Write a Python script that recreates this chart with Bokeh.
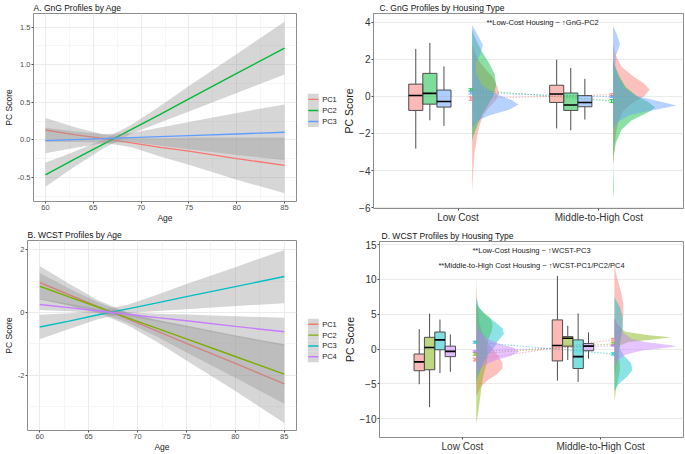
import numpy as np
from bokeh.plotting import figure
from bokeh.models import Range1d, FixedTicker
from bokeh.layouts import column, row
from bokeh.embed import file_html
from bokeh.resources import INLINE
from bokeh.core.properties import value

FONT = "Liberation Sans"

# ---------------- Panel A: GnG profiles by age ----------------
ages = [60, 63, 66, 69, 72, 75, 80, 85]
gng_pcs = ["PC1", "PC2", "PC3"]
gng_colors = ["#F8766D", "#00BA38", "#619CFF"]
gng_fit_pc1 = [0.13, 0.07, 0.02, -0.04, -0.10, -0.15, -0.25, -0.34]
gng_fit_pc2 = [-0.465, -0.26, -0.06, 0.14, 0.34, 0.546, 0.883, 1.22]
gng_fit_pc3 = [-0.01, 0.003, 0.016, 0.03, 0.043, 0.056, 0.078, 0.10]
gng_ci_pc1 = [0.16, 0.10, 0.055, 0.06, 0.12, 0.18, 0.28, 0.37]
gng_ci_pc2 = [0.16, 0.10, 0.06, 0.06, 0.11, 0.17, 0.26, 0.35]
gng_ci_pc3 = [0.17, 0.11, 0.06, 0.06, 0.12, 0.18, 0.28, 0.37]

# ---------------- Panel B: WCST profiles by age ----------------
wcst_pcs = ["PC1", "PC2", "PC3", "PC4"]
wcst_colors = ["#F8766D", "#7CAE00", "#00BFC4", "#C77CFF"]
wcst_fit_pc1 = [0.96, 0.57, 0.185, -0.20, -0.59, -0.98, -1.62, -2.27]
wcst_fit_pc2 = [0.84, 0.50, 0.17, -0.17, -0.50, -0.84, -1.40, -1.96]
wcst_fit_pc3 = [-0.46, -0.27, -0.07, 0.12, 0.31, 0.51, 0.83, 1.15]
wcst_fit_pc4 = [0.26, 0.16, 0.05, -0.05, -0.16, -0.26, -0.44, -0.61]
wcst_ci_pc1 = [0.53, 0.35, 0.20, 0.20, 0.35, 0.55, 0.88, 1.25]
wcst_ci_pc2 = [0.42, 0.27, 0.15, 0.15, 0.27, 0.43, 0.68, 0.95]
wcst_ci_pc3 = [0.39, 0.25, 0.13, 0.13, 0.26, 0.40, 0.62, 0.85]
wcst_ci_pc4 = [0.18, 0.12, 0.07, 0.07, 0.12, 0.20, 0.32, 0.45]

# ---------------- Panels C / D: by housing type ----------------
housing = ["Low Cost", "Middle-to-High Cost"]
# box stats: [lower whisker, Q1, median, Q3, upper whisker]
gng_box_low = {"PC1": [-2.82, -0.76, 0.05, 0.66, 2.56],
               "PC2": [-1.29, -0.42, 0.16, 1.24, 2.88],
               "PC3": [-1.59, -0.58, -0.28, 0.34, 1.61]}
gng_box_mid = {"PC1": [-1.73, -0.33, 0.13, 0.60, 1.98],
               "PC2": [-1.83, -0.76, -0.47, 0.18, 1.53],
               "PC3": [-1.25, -0.56, -0.33, 0.04, 0.94]}
gng_mean_low = [-0.12, 0.35, 0.19]
gng_se_low = [0.09, 0.06, 0.06]
gng_mean_mid = [0.09, -0.25, -0.02]
gng_se_mid = [0.05, 0.07, 0.04]

# half-violin outlines: score levels and widths (x units)
gng_vy_low = {"PC1": [2.8, 2.0, 1.5, 1.0, 0.5, 0.15, -0.2, -0.6, -1.0, -1.5, -2.0, -3.0, -4.0, -5.2],
              "PC2": [3.6, 3.0, 2.4, 1.8, 1.2, 0.6, 0.0, -0.5, -1.0, -1.5, -2.0, -2.4],
              "PC3": [3.85, 3.3, 2.8, 2.3, 1.8, 1.2, 0.6, 0.2, -0.2, -0.44, -0.7, -1.0, -1.3, -1.7]}
gng_vw_low = {"PC1": [0.0, 0.04, 0.09, 0.15, 0.18, 0.19, 0.17, 0.12, 0.08, 0.055, 0.04, 0.017, 0.008, 0.0],
              "PC2": [0.0, 0.03, 0.07, 0.12, 0.16, 0.17, 0.15, 0.11, 0.07, 0.04, 0.015, 0.0],
              "PC3": [0.0, 0.04, 0.075, 0.06, 0.025, 0.03, 0.07, 0.15, 0.28, 0.33, 0.27, 0.13, 0.04, 0.0]}
gng_vy_mid = {"PC1": [2.8, 2.2, 1.6, 1.1, 0.7, 0.35, 0.0, -0.4, -0.8, -1.3, -2.0, -3.0, -3.9],
              "PC2": [2.0, 1.5, 1.0, 0.5, 0.0, -0.3, -0.6, -0.9, -1.3, -1.8, -2.5, -3.2, -3.7, -4.4, -5.0, -5.5],
              "PC3": [3.8, 3.3, 2.8, 2.2, 1.6, 1.0, 0.4, 0.0, -0.3, -0.5, -0.7, -1.0, -1.4, -1.8]}
gng_vw_mid = {"PC1": [0.0, 0.02, 0.06, 0.14, 0.22, 0.26, 0.22, 0.13, 0.07, 0.04, 0.02, 0.008, 0.0],
              "PC2": [0.0, 0.02, 0.05, 0.09, 0.17, 0.25, 0.30, 0.24, 0.13, 0.06, 0.02, 0.005, 0.0, 0.004, 0.006, 0.0],
              "PC3": [0.0, 0.03, 0.05, 0.02, 0.015, 0.04, 0.09, 0.17, 0.35, 0.45, 0.32, 0.12, 0.03, 0.0]}

wcst_box_low = {"PC1": [-5.05, -3.11, -1.84, -0.71, 2.87],
                "PC2": [-8.35, -2.97, 0.23, 1.69, 5.09],
                "PC3": [-3.45, -0.10, 1.32, 2.45, 4.24],
                "PC4": [-3.26, -1.09, -0.33, 0.42, 2.12]}
wcst_box_mid = {"PC1": [-4.53, -1.70, 0.51, 4.19, 10.5],
                "PC2": [-1.56, 0.42, 1.55, 1.79, 3.34],
                "PC3": [-4.72, -2.79, -1.09, 1.32, 5.13],
                "PC4": [-1.37, -0.24, 0.42, 0.79, 2.40]}
wcst_mean_low = [-1.5, -0.7, 0.99, -0.33]
wcst_se_low = [0.2, 0.18, 0.14, 0.1]
wcst_mean_mid = [1.35, 0.75, -0.7, 0.5]
wcst_se_mid = [0.2, 0.15, 0.15, 0.08]

wcst_vy_low = {"PC1": [10, 8, 6, 4, 2.5, 1, 0, -1, -2, -2.8, -3.6, -4.5, -5.5, -6.8],
               "PC2": [6.5, 5.5, 4.5, 3.5, 2.5, 1.5, 0.5, -0.5, -1.5, -2.5, -3.5, -4.5, -6, -7.5, -9, -10.8],
               "PC3": [7.5, 6, 5, 4, 3, 2.2, 1.5, 1.0, 0.5, 0, -1, -2, -3, -4, -5],
               "PC4": [3.5, 2.5, 1.5, 0.8, 0.2, -0.4, -1.0, -1.6, -2.3, -3.0, -3.8]}
wcst_vw_low = {"PC1": [0, 0.005, 0.01, 0.02, 0.04, 0.08, 0.12, 0.16, 0.19, 0.19, 0.15, 0.08, 0.03, 0],
               "PC2": [0, 0.04, 0.1, 0.12, 0.11, 0.09, 0.08, 0.08, 0.08, 0.07, 0.055, 0.045, 0.035, 0.025, 0.015, 0],
               "PC3": [0, 0.02, 0.06, 0.13, 0.19, 0.20, 0.17, 0.15, 0.14, 0.12, 0.08, 0.05, 0.03, 0.01, 0],
               "PC4": [0, 0.03, 0.08, 0.16, 0.27, 0.31, 0.25, 0.14, 0.06, 0.02, 0]}
wcst_vy_mid = {"PC1": [12.5, 11, 9.5, 8, 6.5, 5, 3.5, 2, 0.5, -1, -2.5, -4],
               "PC2": [4.5, 3.5, 2.5, 2.0, 1.7, 1.4, 1.0, 0.5, 0, -1, -2, -3, -4, -5.5, -7.5],
               "PC3": [7.5, 6, 4.5, 3, 2, 1, 0, -1, -2, -3, -4, -5, -6],
               "PC4": [4.5, 3.5, 2.5, 1.5, 1.0, 0.6, 0.42, 0.2, -0.2, -0.8, -1.5, -2.5]}
wcst_vw_mid = {"PC1": [0, 0.01, 0.03, 0.05, 0.065, 0.065, 0.06, 0.05, 0.04, 0.03, 0.015, 0],
               "PC2": [0, 0.02, 0.08, 0.25, 0.41, 0.3, 0.1, 0.04, 0.03, 0.03, 0.04, 0.04, 0.03, 0.015, 0],
               "PC3": [0, 0.04, 0.06, 0.06, 0.05, 0.04, 0.04, 0.07, 0.12, 0.13, 0.09, 0.03, 0],
               "PC4": [0, 0.03, 0.06, 0.12, 0.22, 0.40, 0.45, 0.38, 0.2, 0.08, 0.03, 0]}

gng_notes = [(1.6, 4.0, "**Low-Cost Housing ~ \u2191GnG-PC2")]
wcst_notes = [(1.5, 14.1, "**Low-Cost Housing ~ \u2191WCST-PC3"),
              (1.5, 12.0, "**Middle-to-High Cost Housing ~ \u2191WCST-PC1/PC2/PC4")]


def base_fig(w, h, xr, yr, borders, title, title_offset):
    l, r, t, b = borders
    p = figure(width=w, height=h, x_range=Range1d(*xr), y_range=Range1d(*yr),
               output_backend="svg", toolbar_location=None, frame_align=False,
               min_border_left=l, min_border_right=r, min_border_top=t, min_border_bottom=b)
    p.outline_line_color = "#8C8C8C"
    p.outline_line_width = 1
    p.title.text = title
    p.title.align = "left"
    p.title.text_font = FONT
    p.title.text_font_size = "8.5px"
    p.title.text_font_style = "normal"
    p.title.text_color = "#111111"
    p.title.offset = title_offset
    p.title.standoff = 1
    for ax in (p.xaxis[0], p.yaxis[0]):
        ax.axis_line_color = None
        ax.major_tick_line_color = "#4D4D4D"
        ax.minor_tick_line_color = None
        ax.major_tick_out = 2
        ax.major_tick_in = 0
        ax.major_label_standoff = 1
        ax.axis_label_standoff = 1
        ax.major_label_text_font = FONT
        ax.major_label_text_color = "#4D4D4D"
        ax.axis_label_text_font = FONT
        ax.axis_label_text_font_style = "normal"
        ax.axis_label_text_color = "#222222"
    return p


def age_panel(w, h, yr, borders, title, yticks, yminor, ylabels, colors, fits, cis):
    p = base_fig(w, h, (58.75, 86.25), yr, borders, title, 0)
    xt = [60, 65, 70, 75, 80, 85]
    xm = [62.5, 67.5, 72.5, 77.5, 82.5]
    p.xaxis.ticker = FixedTicker(ticks=xt, minor_ticks=[])
    p.yaxis.ticker = FixedTicker(ticks=yticks, minor_ticks=[])
    p.yaxis.major_label_overrides = {t: s for t, s in zip(yticks, ylabels)}
    p.xgrid.ticker = FixedTicker(ticks=xt, minor_ticks=xm)
    p.ygrid.ticker = FixedTicker(ticks=yticks, minor_ticks=yminor)
    for g in (p.xgrid[0], p.ygrid[0]):
        g.grid_line_color = "#EBEBEB"
        g.grid_line_width = 1
        g.minor_grid_line_color = "#F2F2F2"
        g.minor_grid_line_width = 0.7
    for ax in (p.xaxis[0], p.yaxis[0]):
        ax.major_label_text_font_size = "7.5px"
        ax.axis_label_text_font_size = "8.5px"
    p.xaxis.axis_label = "Age"
    p.xaxis.axis_label_standoff = 0
    p.yaxis.axis_label = "PC Score"
    for c, fit, ci in zip(colors, fits, cis):
        lo = [f - e for f, e in zip(fit, ci)]
        hi = [f + e for f, e in zip(fit, ci)]
        p.varea(x=ages, y1=lo, y2=hi, fill_color="#999999", fill_alpha=0.4)
        p.line(x=ages, y=fit, line_color=c, line_width=1.4)
    return p


def legend_fig(w, h, pcs, colors, top, kh):
    lf = figure(width=w, height=h, x_range=Range1d(0, w), y_range=Range1d(h, 0),
                output_backend="svg", toolbar_location=None, frame_align=False,
                x_axis_location=None, y_axis_location=None,
                min_border_left=0, min_border_right=0, min_border_top=0, min_border_bottom=0)
    lf.outline_line_color = None
    lf.grid.visible = False
    n = len(pcs)
    tops = [top + i * kh for i in range(n)]
    mids = [t + kh / 2 for t in tops]
    lf.quad(left=[7.3] * n, right=[18.3] * n, top=tops, bottom=[t + kh for t in tops],
            fill_color="#D6D6D6", line_color=None)
    lf.segment(x0=[7.8] * n, y0=mids, x1=[17.8] * n, y1=mids, line_color=colors, line_width=1.4)
    lf.text(x=[21.7] * n, y=mids, text=pcs, text_baseline="middle", text_align="left",
            text_font=value(FONT), text_font_size="7.5px", text_color="#1A1A1A")
    return lf


def rain_panel(w, h, yr, borders, title, title_offset, yticks, pcs, colors,
               boxes, means, ses, vys, vws, notes):
    p = base_fig(w, h, (0.4, 2.6), yr, borders, title, title_offset)
    p.xaxis.ticker = FixedTicker(ticks=[1, 2], minor_ticks=[])
    p.xaxis.major_label_overrides = {1: housing[0], 2: housing[1]}
    p.yaxis.ticker = FixedTicker(ticks=yticks, minor_ticks=[])
    p.xgrid.grid_line_color = None
    p.ygrid.grid_line_color = "#EBEBEB"
    p.ygrid.grid_line_width = 1
    for ax in (p.xaxis[0], p.yaxis[0]):
        ax.major_label_text_font_size = "10px"
        ax.axis_label_text_font_size = "10.5px"
        ax.major_label_text_color = "#333333"
    p.yaxis.axis_label = "PC Score"
    p.xaxis.axis_label = None
    p.xaxis.major_label_standoff = 1
    n = len(pcs)
    bw = 0.3 / n
    # dotted lines joining group means
    for i, c in enumerate(colors):
        p.line(x=[1.09, 2.09], y=[means[0][i], means[1][i]], line_color=c,
               line_dash="1 2", line_width=1, line_alpha=0.8)
    # half violins
    for g in range(2):
        for i, pc in enumerate(pcs):
            xs = [g + 1.1 + v for v in vws[g][pc]]
            p.patch(x=xs, y=vys[g][pc], fill_color=colors[i], fill_alpha=0.45, line_color=None)
    # boxes
    for g in range(2):
        for i, pc in enumerate(pcs):
            s = boxes[g][pc]
            cx = g + 1 - 0.35 + (i + 0.5) * bw
            p.segment(x0=[cx, cx], y0=[s[0], s[3]], x1=[cx, cx], y1=[s[1], s[4]],
                      line_color="#4D4D4D", line_width=1)
            p.quad(left=[cx - bw / 2], right=[cx + bw / 2], bottom=[s[1]], top=[s[3]],
                   fill_color=colors[i], fill_alpha=0.5, line_color="#4D4D4D", line_width=1)
            p.segment(x0=[cx - bw / 2], y0=[s[2]], x1=[cx + bw / 2], y1=[s[2]],
                      line_color="black", line_width=1.6)
    # mean +/- se markers
    for g in range(2):
        for i, c in enumerate(colors):
            m, e = means[g][i], ses[g][i]
            xm = g + 1.09
            p.segment(x0=[xm - 0.015, xm - 0.015, xm], y0=[m - e, m + e, m - e],
                      x1=[xm + 0.015, xm + 0.015, xm], y1=[m - e, m + e, m + e],
                      line_color=c, line_width=1, line_alpha=0.9)
    for (x, y, t) in notes:
        p.text(x=[x], y=[y], text=[t], text_align="center", text_baseline="middle",
               text_font=value(FONT), text_font_size="7.5px", text_color="#1A1A1A")
    return p


pA = age_panel(300, 225, (-0.82, 1.68), (26, 4, 12, 21), "A. GnG Profiles by Age",
               [-0.5, 0.0, 0.5, 1.0, 1.5], [-0.75, -0.25, 0.25, 0.75, 1.25],
               ["-0.5", "0.0", "0.5", "1.0", "1.5"], gng_colors,
               [gng_fit_pc1, gng_fit_pc2, gng_fit_pc3], [gng_ci_pc1, gng_ci_pc2, gng_ci_pc3])
lA = legend_fig(40, 225, gng_pcs, gng_colors, 93.3, 11.1)
pB = age_panel(300, 229, (-3.76, 2.3), (18, 4, 15, 21), "B. WCST Profiles by Age",
               [-2, 0, 2], [-3, -1, 1], ["-2", "0", "2"], wcst_colors,
               [wcst_fit_pc1, wcst_fit_pc2, wcst_fit_pc3, wcst_fit_pc4],
               [wcst_ci_pc1, wcst_ci_pc2, wcst_ci_pc3, wcst_ci_pc4])
lB = legend_fig(40, 229, wcst_pcs, wcst_colors, 93.3, 10.85)
pC = rain_panel(345, 225, (-6.05, 4.47), (29, 2, 12, 14), "C. GnG Profiles by Housing Type", 6,
                [-6, -4, -2, 0, 2, 4], gng_pcs, gng_colors,
                [gng_box_low, gng_box_mid], [gng_mean_low, gng_mean_mid], [gng_se_low, gng_se_mid],
                [gng_vy_low, gng_vy_mid], [gng_vw_low, gng_vw_mid], gng_notes)
pD = rain_panel(345, 229, (-12.7, 15.45), (33, 2, 16, 14), "D. WCST Profiles by Housing Type", 2,
                [-10, -5, 0, 5, 10, 15], wcst_pcs, wcst_colors,
                [wcst_box_low, wcst_box_mid], [wcst_mean_low, wcst_mean_mid], [wcst_se_low, wcst_se_mid],
                [wcst_vy_low, wcst_vy_mid], [wcst_vw_low, wcst_vw_mid], wcst_notes)

layout = column(row(pA, lA, pC), row(pB, lB, pD))
open("out.html", "w").write(file_html(layout, INLINE))
